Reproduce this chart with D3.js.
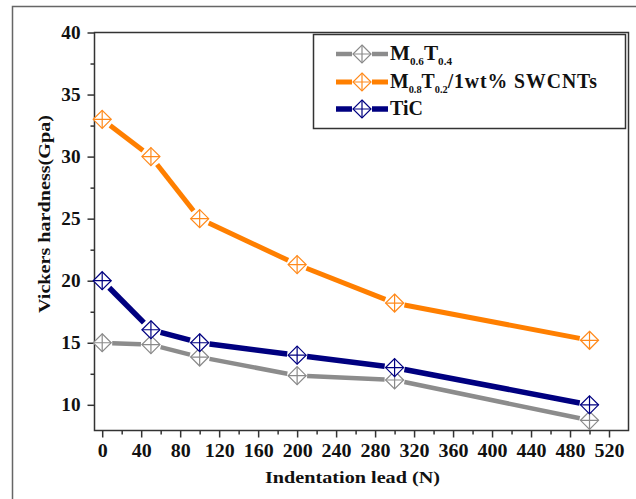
<!DOCTYPE html>
<html>
<head>
<meta charset="utf-8">
<script src="https://cdn.jsdelivr.net/npm/d3@7"></script>
<style>
  html, body { margin: 0; padding: 0; background: #fff; }
  svg { display: block; }
  text { font-family: "Liberation Serif", "Times New Roman", serif; font-weight: bold; fill: #111; }
</style>
</head>
<body>
<svg id="chart" width="636" height="499"></svg>
<script>
// Indentation loads (N)
const loads = [0, 50, 100, 200, 300, 500];

// Vickers hardness (GPa) for each material
const hardnessM06T04 = [15.0, 14.85, 13.85, 12.35, 12.0, 8.75];
const hardnessM08T02CNT = [33.0, 30.0, 25.0, 21.3, 18.2, 15.2];
const hardnessTiC = [20.0, 16.05, 15.0, 14.0, 13.0, 10.0];

// Tick values
const xMajorTicks = [0, 40, 80, 120, 160, 200, 240, 280, 320, 360, 400, 440, 480, 520];
const xMinorTicks = [20, 60, 100, 140, 180, 220, 260, 300, 340, 380, 420, 460, 500];
const yMajorTicks = [10, 15, 20, 25, 30, 35, 40];
const yMinorTicks = [12.5, 17.5, 22.5, 27.5, 32.5, 37.5];

const series = [
  { key: "m06", values: hardnessM06T04, color: "#8c8c8c", marker: "#8a8a8a", width: 4.5,
    label: [["M", 0], ["0.6", 1], ["T", 0], ["0.4", 1]], labelWidth: 62 },
  { key: "m08", values: hardnessM08T02CNT, color: "#ff7f00", marker: "#ff8a1c", width: 5,
    label: [["M", 0], ["0.8", 1], ["T", 0], ["0.2", 1], ["/1wt% SWCNTs", 0]], labelWidth: 208 },
  { key: "tic", values: hardnessTiC, color: "#000080", marker: "#000080", width: 5.5,
    label: [["TiC", 0]], labelWidth: 33 }
];

const svg = d3.select("#chart");

// outer figure border
svg.append("rect")
  .attr("x", 12.5).attr("y", 6.5).attr("width", 640).attr("height", 510)
  .attr("fill", "none").attr("stroke", "#666").attr("stroke-width", 1.5);

const plot = { left: 94.5, right: 628.5, top: 32.5, bottom: 430.5 };

const x = d3.scaleLinear().domain([-7.9, 540]).range([plot.left, plot.right]);
const y = d3.scaleLinear().domain([7.93, 40]).range([plot.bottom, plot.top]);

// plot frame
svg.append("rect")
  .attr("x", plot.left).attr("y", plot.top)
  .attr("width", plot.right - plot.left).attr("height", plot.bottom - plot.top)
  .attr("fill", "none").attr("stroke", "#333").attr("stroke-width", 1.5);

function styleTickText(sel, digitW) {
  sel.style("font-size", "18px").attr("fill", "#111")
    .attr("lengthAdjust", "spacingAndGlyphs")
    .attr("textLength", function() { return this.textContent.length * digitW; });
}

// x axis
const xAxis = svg.append("g").attr("transform", `translate(0,${plot.bottom})`)
  .call(d3.axisBottom(x).tickValues(xMajorTicks).tickSize(7).tickPadding(7).tickFormat(d3.format("d")));
xAxis.select(".domain").remove();
xAxis.selectAll("line").attr("stroke", "#333").attr("stroke-width", 1.5);
xAxis.selectAll("text").call(styleTickText, 10);
const xMinor = svg.append("g").attr("transform", `translate(0,${plot.bottom})`)
  .call(d3.axisBottom(x).tickValues(xMinorTicks).tickSize(4).tickFormat(""));
xMinor.select(".domain").remove();
xMinor.selectAll("line").attr("stroke", "#333").attr("stroke-width", 1.5);

// y axis
const yAxis = svg.append("g").attr("transform", `translate(${plot.left},0)`)
  .call(d3.axisLeft(y).tickValues(yMajorTicks).tickSize(7).tickPadding(7).tickFormat(d3.format("d")));
yAxis.select(".domain").remove();
yAxis.selectAll("line").attr("stroke", "#333").attr("stroke-width", 1.5);
yAxis.selectAll("text").call(styleTickText, 9.6);
const yMinor = svg.append("g").attr("transform", `translate(${plot.left},0)`)
  .call(d3.axisLeft(y).tickValues(yMinorTicks).tickSize(4).tickFormat(""));
yMinor.select(".domain").remove();
yMinor.selectAll("line").attr("stroke", "#333").attr("stroke-width", 1.5);

// axis titles
svg.append("text")
  .attr("x", 352.5).attr("y", 483)
  .attr("text-anchor", "middle").style("font-size", "17.5px")
  .attr("textLength", 175).attr("lengthAdjust", "spacingAndGlyphs")
  .text("Indentation lead (N)");
svg.append("text")
  .attr("transform", `translate(50,214) rotate(-90)`)
  .attr("text-anchor", "middle").style("font-size", "17.5px")
  .attr("textLength", 198).attr("lengthAdjust", "spacingAndGlyphs")
  .text("Vickers hardness(Gpa)");

// diamond marker with an inner cross
const R = 9;
function drawMarker(g, cx, cy, color) {
  const m = g.append("g").attr("transform", `translate(${cx},${cy})`);
  m.append("path")
    .attr("d", `M0,${-R}L${R},0L0,${R}L${-R},0Z`)
    .attr("fill", "#fff").attr("stroke", color).attr("stroke-width", 1.2);
  m.append("path")
    .attr("d", `M0,${-R}V${R}M${-R},0H${R}`)
    .attr("stroke", color).attr("stroke-width", 1.2);
}

// series lines, broken around each marker
const gap = 10;
series.forEach(s => {
  const g = svg.append("g");
  const pts = loads.map((l, i) => [x(l), y(s.values[i])]);
  for (let i = 0; i < pts.length - 1; i++) {
    const [x0, y0] = pts[i], [x1, y1] = pts[i + 1];
    const len = Math.hypot(x1 - x0, y1 - y0);
    const ux = (x1 - x0) / len, uy = (y1 - y0) / len;
    g.append("line")
      .attr("x1", x0 + ux * gap).attr("y1", y0 + uy * gap)
      .attr("x2", x1 - ux * gap).attr("y2", y1 - uy * gap)
      .attr("stroke", s.color).attr("stroke-width", s.width);
  }
  pts.forEach(([px, py]) => drawMarker(g, px, py, s.marker));
});

// legend
const legend = svg.append("g");
legend.append("rect")
  .attr("x", 313.5).attr("y", 34.5).attr("width", 312).attr("height", 94)
  .attr("fill", "#fff").attr("stroke", "#333").attr("stroke-width", 1.5);
const rowY = [54, 82, 109];
series.forEach((s, i) => {
  const ly = rowY[i];
  legend.append("line")
    .attr("x1", 336).attr("x2", 352).attr("y1", ly).attr("y2", ly)
    .attr("stroke", s.color).attr("stroke-width", s.width);
  legend.append("line")
    .attr("x1", 372).attr("x2", 388).attr("y1", ly).attr("y2", ly)
    .attr("stroke", s.color).attr("stroke-width", s.width);
  drawMarker(legend, 362, ly, s.marker);
  const t = legend.append("text")
    .attr("x", 390).attr("y", ly + 6).style("font-size", "21px")
    .attr("textLength", s.labelWidth).attr("lengthAdjust", "spacingAndGlyphs");
  let shifted = false;
  s.label.forEach(([str, sub]) => {
    const ts = t.append("tspan").text(str);
    if (sub && !shifted) { ts.attr("dy", 5).style("font-size", "11px"); shifted = true; }
    else if (sub) { ts.style("font-size", "11px"); }
    else if (shifted) { ts.attr("dy", -5); shifted = false; }
    if (str.startsWith("/")) ts.attr("letter-spacing", "1px");
  });
});
</script>
</body>
</html>
